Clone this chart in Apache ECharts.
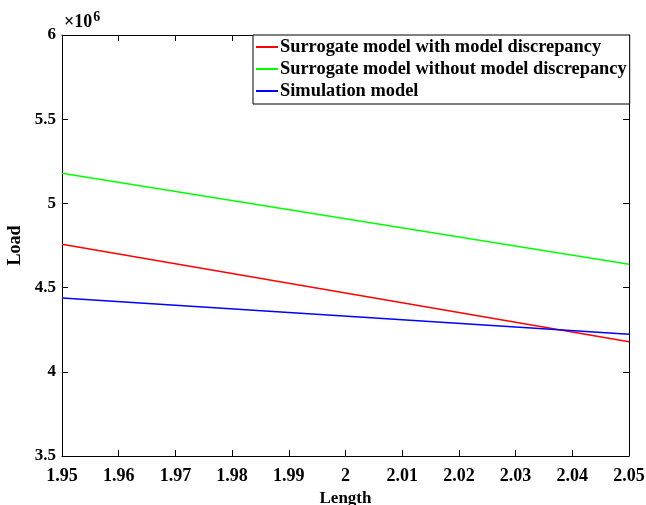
<!DOCTYPE html>
<html>
<head>
<meta charset="utf-8">
<script src="https://cdn.jsdelivr.net/npm/echarts@6/dist/echarts.min.js"></script>
<style>
  html, body { margin: 0; padding: 0; background: #fff; }
  #chart { width: 646px; height: 505px; }
</style>
</head>
<body>
<div id="chart"></div>
<script>
// data (load in units of 1e6)
var lengthPts = [1.95, 2.05]
var withDiscrepancy = [4.757, 4.179]
var withoutDiscrepancy = [5.179, 4.638]
var simulation = [4.438, 4.223]
var seriesNames = [
  'Surrogate model with model discrepancy',
  'Surrogate model without model discrepancy',
  'Simulation model'
]
var seriesColors = ['#ff0000', '#00ff00', '#0000ff']

var font = 'Liberation Serif'

function pairs(ys) {
  return lengthPts.map(function(x, i) { return [x, ys[i]] })
}

function fmt(v) {
  return String(Math.round(v * 100) / 100)
}

var myChart = echarts.init(document.getElementById('chart'))

var axisCommon = {
  axisLine: { show: true, lineStyle: { color: '#000', width: 1 } },
  axisTick: { show: true, inside: true, length: 6, lineStyle: { color: '#000' } },
  splitLine: { show: false }
}

var option = {
  animation: false,
  textStyle: { fontFamily: font },
  grid: { left: 62, right: 17, top: 35, bottom: 49, containLabel: false, outerBoundsMode: 'none' },
  xAxis: [
    Object.assign({
      type: 'value',
      min: 1.95,
      max: 2.05,
      interval: 0.01,
      name: 'Length',
      nameLocation: 'middle',
      nameGap: 26,
      nameTextStyle: { color: '#000', fontSize: 17, fontWeight: 'bold', fontFamily: font },
      axisLabel: {
        color: '#000', fontSize: 18, fontWeight: 'bold', fontFamily: font, margin: 11,
        formatter: fmt
      }
    }, axisCommon),
    Object.assign({
      type: 'value',
      position: 'top',
      min: 1.95,
      max: 2.05,
      interval: 0.01,
      axisLabel: { show: false }
    }, axisCommon)
  ],
  yAxis: [
    Object.assign({
      type: 'value',
      min: 3.5,
      max: 6,
      interval: 0.5,
      name: 'Load',
      nameLocation: 'middle',
      nameGap: 31,
      nameTextStyle: { color: '#000', fontSize: 18, fontWeight: 'bold', fontFamily: font },
      axisLabel: { color: '#000', fontSize: 17, fontWeight: 'bold', fontFamily: font, margin: 6 }
    }, axisCommon),
    Object.assign({
      type: 'value',
      position: 'right',
      min: 3.5,
      max: 6,
      interval: 0.5,
      axisLabel: { show: false }
    }, axisCommon)
  ],
  legend: {
    orient: 'vertical',
    left: 253,
    top: 35,
    padding: [3, 3, 4, 3],
    itemGap: 4,
    itemWidth: 22,
    itemHeight: 2,
    icon: 'rect',
    borderColor: '#000',
    borderWidth: 1,
    backgroundColor: '#fff',
    textStyle: { color: '#000', fontSize: 18.4, fontWeight: 'bold', fontFamily: font, padding: [0, 0, 0, -3] },
    data: seriesNames
  },
  graphic: [{
    type: 'text',
    left: 64,
    top: 10,
    style: {
      text: '×10{sup|6}',
      fill: '#000',
      font: 'bold 18px "Liberation Serif"',
      rich: {
        sup: { fontSize: 14, fontWeight: 'bold', fontFamily: font, verticalAlign: 'top', padding: [0, 0, 10, 1] }
      }
    }
  }],
  series: [withDiscrepancy, withoutDiscrepancy, simulation].map(function(ys, i) {
    return {
      name: seriesNames[i],
      type: 'line',
      data: pairs(ys),
      symbol: 'none',
      color: seriesColors[i],
      lineStyle: { width: 1.5, color: seriesColors[i] }
    }
  })
}

myChart.setOption(option)
</script>
</body>
</html>
